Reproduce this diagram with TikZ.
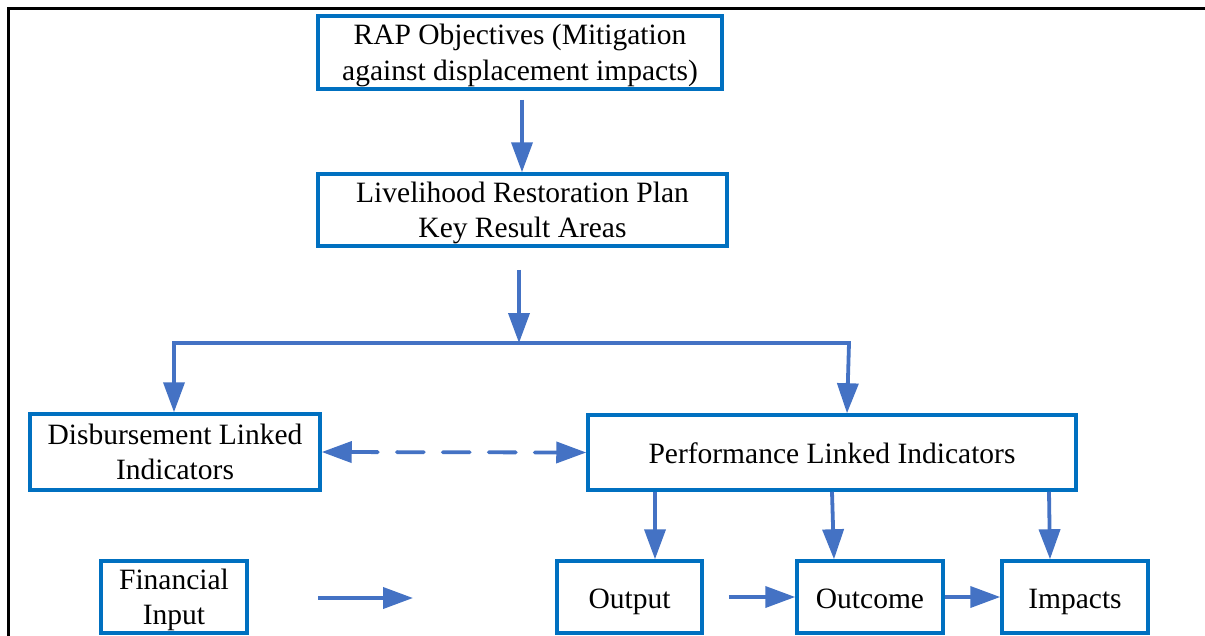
\documentclass[tikz,border=0pt]{standalone}
\usepackage{fontspec}
\setmainfont{Liberation Serif}
\usetikzlibrary{arrows.meta,calc}
\definecolor{boxblue}{HTML}{0070C0}
\definecolor{arrblue}{HTML}{4472C4}
\begin{document}
\begin{tikzpicture}[x=1pt,y=-1pt,
  box/.style={draw=boxblue, line width=3.5pt, align=center, inner sep=0pt, fill=white,
    font=\fontsize{29.5}{35.5}\selectfont},
  one/.style={text height=27pt, text depth=5pt},
  two/.style={text depth=0pt},
  arr/.style={draw=arrblue, line width=3.8pt, -{Triangle[length=30pt,width=21pt]}},
  dbl/.style={draw=arrblue, line width=3.8pt, {Triangle[length=30pt,width=21pt]}-{Triangle[length=30pt,width=21pt]},
    dash pattern=on 27pt off 19pt, line cap=round},
  plain/.style={draw=arrblue, line width=3.8pt},
  frame/.style={draw=black, line width=3pt}
]
\useasboundingbox (0,0) rectangle (1205,635);
\clip (0,0) rectangle (1205,635);
\fill[white] (0,0) rectangle (1205,635);
\draw[frame] (8,660) -- (8,8) -- (1230,8);

\node[box, two, minimum width=404pt, minimum height=73pt] (rap) at (520,52.5)
  {RAP Objectives (Mitigation\\against displacement impacts)};
\node[box, two, minimum width=409pt, minimum height=72pt] (lrp) at (522.5,210)
  {Livelihood Restoration Plan\\Key Result Areas};
\node[box, two, minimum width=290pt, minimum height=76pt] (dis) at (175,452)
  {Disbursement Linked\\Indicators};
\node[box, one, minimum width=488pt, minimum height=75pt] (perf) at (832,452.5)
  {Performance Linked Indicators};
\node[box, two, minimum width=146pt, minimum height=72pt] (fin) at (174,597)
  {Financial\\Input};
\node[box, one, minimum width=145pt, minimum height=72pt] (out) at (629.5,597) {Output};
\node[box, one, minimum width=146pt, minimum height=72pt] (outc) at (870,597) {Outcome};
\node[box, one, minimum width=146pt, minimum height=72pt] (imp) at (1075,597) {Impacts};

\coordinate (jc) at (519,343);
\coordinate (jl) at (174,343);
\coordinate (jr) at (849,343);
\coordinate (fa) at (318,598);
\coordinate (fb) at (413,598);

\draw[arr, shorten <=9pt] (rap.south -| 522,0) -- (lrp.north -| 522,0);
\draw[arr] (lrp.south -| 519,0) ++(0,22) -- (jc);
\draw[plain, line cap=rect] (jl) -- (jr);
\draw[arr] (jl) -- (dis.north -| jl);
\draw[arr] (jr) -- (perf.north -| 847,0);
\draw[dbl] (dis.east) -- (perf.west);
\draw[arr] (perf.south -| 655,0) -- (out.north -| 655,0);
\draw[arr] (perf.south -| 832,0) -- (outc.north -| 834,0);
\draw[arr] (perf.south -| 1049,0) -- (imp.north -| 1050,0);
\draw[arr] (fa) -- (fb);
\draw[arr, shorten <=25pt] (out.east) -- (outc.west);
\draw[arr] (outc.east) -- (imp.west);
\end{tikzpicture}
\end{document}
